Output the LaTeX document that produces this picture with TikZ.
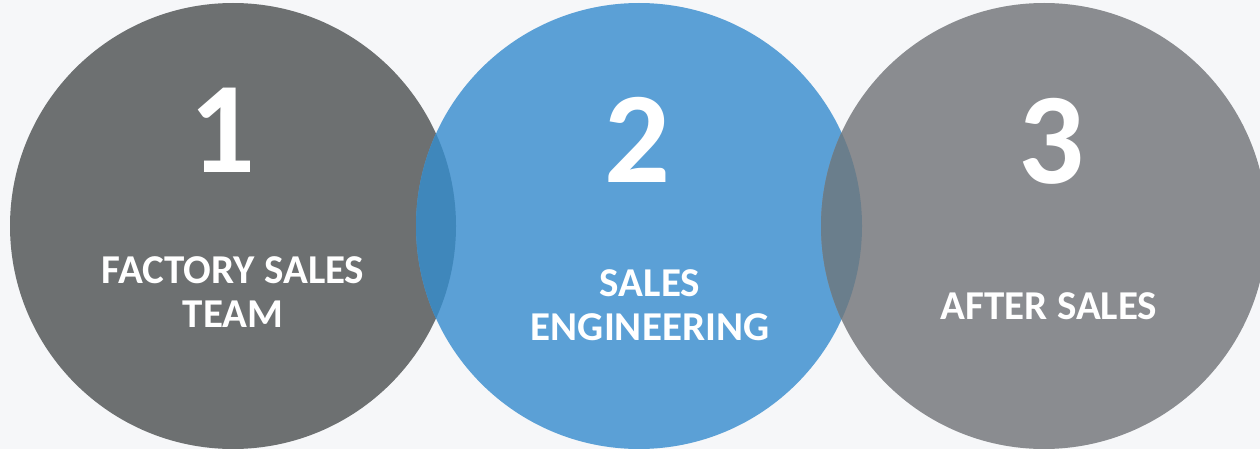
\documentclass[tikz,border=0pt]{standalone}
\usepackage{fontspec}
\setsansfont{Carlito}
\definecolor{pagebg}{HTML}{F6F7F9}
\definecolor{teamgray}{HTML}{6D7071}
\definecolor{engblue}{HTML}{5BA0D6}
\definecolor{aftergray}{HTML}{8A8C90}
\definecolor{lensblue}{HTML}{3F87BB}
\definecolor{lensslate}{HTML}{6A7E8C}
\tikzstyle{base} = [circle, inner sep=0pt, minimum size=446pt]
\tikzstyle{team} = [base, fill=teamgray]
\tikzstyle{engineering} = [base, fill=engblue]
\tikzstyle{after} = [base, fill=aftergray]
\tikzstyle{number} = [text=white, font=\sffamily\bfseries\fontsize{130}{130}\selectfont]
\tikzstyle{label} = [text=white, align=center, font=\sffamily\bfseries\fontsize{41}{44}\selectfont]

\begin{document}
\begin{tikzpicture}[x=1pt, y=-1pt]
    \fill[pagebg] (0,0) rectangle (1260,449);
    \useasboundingbox (0,0) rectangle (1260,449);
    \clip (0,0) rectangle (1260,449);
    \node (team) [team] at (233,226) {};
    \node (eng) [engineering] at (639,226) {};
    \node (after) [after] at (1044,226) {};
    \begin{scope}
        \clip (team.center) circle (223pt);
        \fill[lensblue] (eng.center) circle (223pt);
    \end{scope}
    \begin{scope}
        \clip (eng.center) circle (223pt);
        \fill[lensslate] (after.center) circle (223pt);
    \end{scope}
    \node (num1) [number] at (222,130) {1};
    \node (num2) [number] at (637,140) {2};
    \node (num3) [number] at (1051,141) {3};
    \node (lab1) [label] at (233,292) {FACTORY SALES\\TEAM};
    \node (lab2) [label] at (650,305) {SALES\\ENGINEERING};
    \node (lab3) [label] at (1049,306) {AFTER SALES};
\end{tikzpicture}
\end{document}
